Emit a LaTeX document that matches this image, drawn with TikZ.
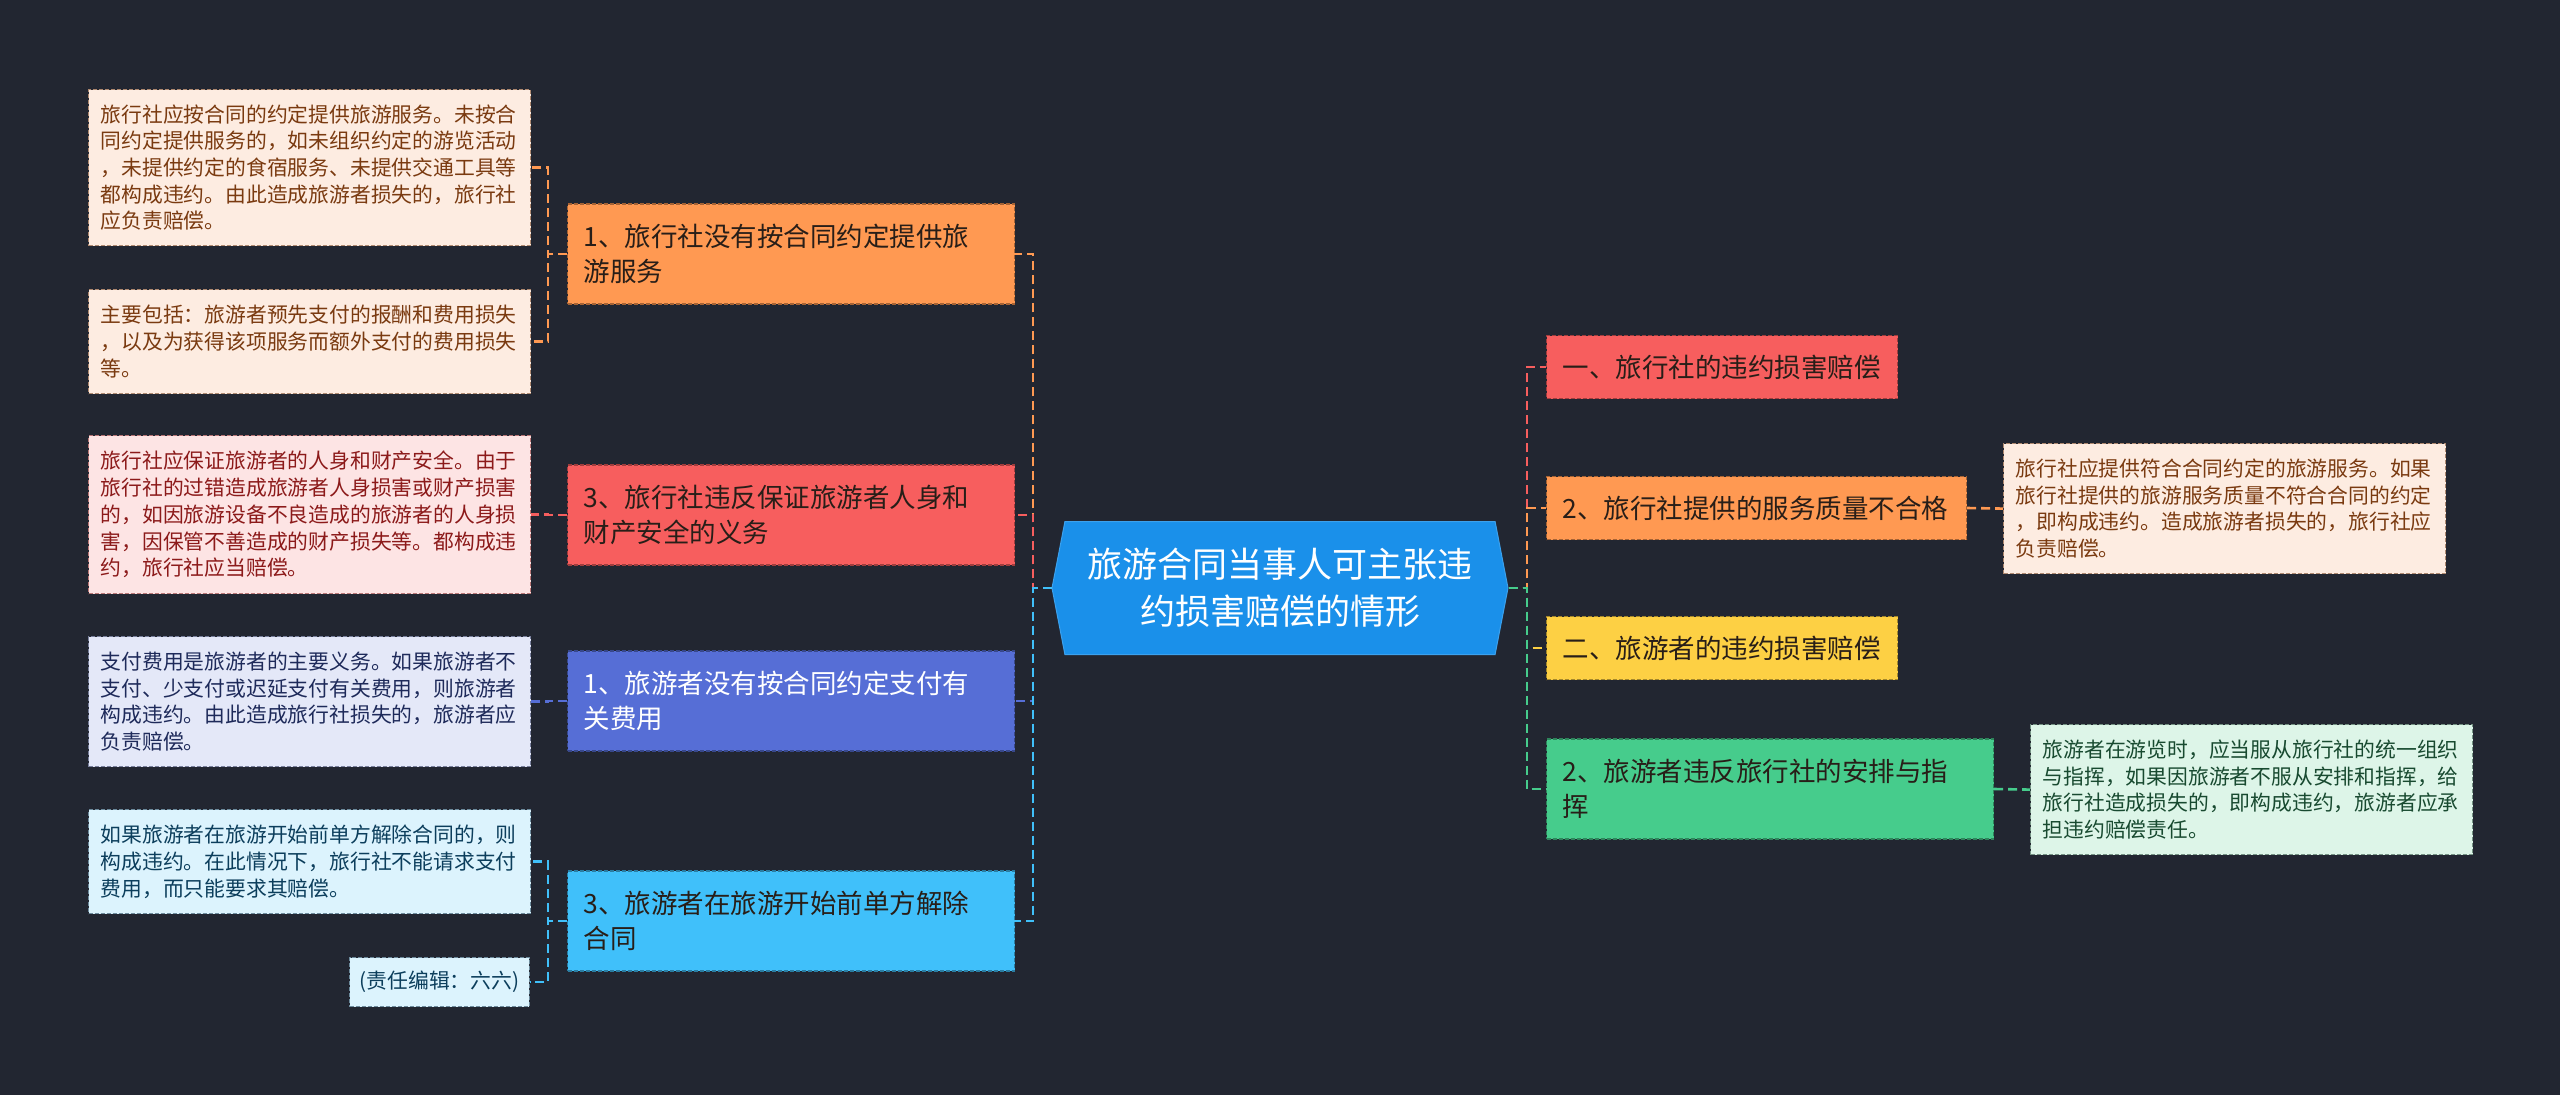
\documentclass[tikz,border=0pt]{standalone}
\usepackage{fontspec}
\setmainfont{Noto Sans CJK SC}
\usetikzlibrary{shapes.symbols,positioning}
\definecolor{bgdark}{RGB}{34,38,49}
\definecolor{hubblue}{RGB}{26,144,234}
\definecolor{tangerine}{RGB}{255,153,82}
\definecolor{coral}{RGB}{247,94,94}
\definecolor{indigo}{RGB}{86,110,214}
\definecolor{sky}{RGB}{64,192,250}
\definecolor{sun}{RGB}{253,208,68}
\definecolor{mint}{RGB}{70,204,140}
\definecolor{inkdark}{RGB}{40,30,24}
\definecolor{peachbg}{RGB}{253,236,225}
\definecolor{peachtx}{RGB}{122,58,16}
\definecolor{pinkbg}{RGB}{253,228,228}
\definecolor{pinktx}{RGB}{140,26,26}
\definecolor{lilacbg}{RGB}{228,232,248}
\definecolor{lilactx}{RGB}{30,42,90}
\definecolor{icebg}{RGB}{220,243,253}
\definecolor{icetx}{RGB}{12,62,92}
\definecolor{mintbg}{RGB}{221,245,232}
\definecolor{minttx}{RGB}{24,74,48}
\tikzset{
  hub/.style={signal,signal to=west and east,signal pointer angle=158,fill=hubblue,draw=hubblue!85!white,
    line width=1pt,text=white,align=center,minimum width=456pt,minimum height=133pt,font=\fontsize{35}{47}\selectfont},
  topic/.style={draw=#1!65!black,fill=#1,dash pattern=on 4pt off 2pt,line width=1.2pt,inner xsep=16pt,
    inner ysep=0pt,anchor=west,align=left,font=\fontsize{26.5}{35}\selectfont},
  leaf/.style={dash pattern=on 4pt off 2pt,line width=1.2pt,inner xsep=12pt,inner ysep=0pt,
    align=left,font=\fontsize{20.8}{26.7}\selectfont},
  link/.style={draw=#1,line width=2.6pt,dash pattern=on 9pt off 5pt},
}
\begin{document}
\begin{tikzpicture}[x=1pt,y=-1pt]
  \fill[bgdark] (0,0) rectangle (2560,1095);
  \useasboundingbox (0,0) rectangle (2560,1095);

  \node[hub] (hub) at (1280,588) {旅游合同当事人可主张违\\约损害赔偿的情形};

  \foreach \n/\x/\y/\w/\h/\c/\tc/\txt in {
    lt1/567/254/447/100/tangerine/inkdark/1、旅行社没有按合同约定提供旅\\游服务,
    lt2/567/515/447/100/coral/inkdark/3、旅行社违反保证旅游者人身和\\财产安全的义务,
    lt3/567/701/447/100/indigo/white/1、旅游者没有按合同约定支付有\\关费用,
    lt4/567/921/447/100/sky/inkdark/3、旅游者在旅游开始前单方解除\\合同,
    rt1/1546/367/351/63/coral/inkdark/一、旅行社的违约损害赔偿,
    rt2/1546/508/420/63/tangerine/inkdark/2、旅行社提供的服务质量不合格,
    rt3/1546/648/351/63/sun/inkdark/二、旅游者的违约损害赔偿,
    rt4/1546/789/447/100/mint/inkdark/2、旅游者违反旅行社的安排与指\\挥}{
    \node[topic=\c,text=\tc,minimum width=\w pt,minimum height=\h pt,text width=\w pt-32pt] (\n) at (\x,\y) {\txt};
  }

  \foreach \n/\x/\y/\h/\bg/\tc/\txt in {
    ll1/88/89/156/peachbg/peachtx/旅行社应按合同的约定提供旅游服务。未按合\\同约定提供服务的，如未组织约定的游览活动\\，未提供约定的食宿服务、未提供交通工具等\\都构成违约。由此造成旅游者损失的，旅行社\\应负责赔偿。,
    ll2/88/289/104/peachbg/peachtx/主要包括：旅游者预先支付的报酬和费用损失\\，以及为获得该项服务而额外支付的费用损失\\等。,
    ll3/88/435/158/pinkbg/pinktx/旅行社应保证旅游者的人身和财产安全。由于\\旅行社的过错造成旅游者人身损害或财产损害\\的，如因旅游设备不良造成的旅游者的人身损\\害，因保管不善造成的财产损失等。都构成违\\约，旅行社应当赔偿。,
    ll4/88/636/130/lilacbg/lilactx/支付费用是旅游者的主要义务。如果旅游者不\\支付、少支付或迟延支付有关费用，则旅游者\\构成违约。由此造成旅行社损失的，旅游者应\\负责赔偿。,
    ll5/88/809/104/icebg/icetx/如果旅游者在旅游开始前单方解除合同的，则\\构成违约。在此情况下，旅行社不能请求支付\\费用，而只能要求其赔偿。,
    rl1/2003/443/130/peachbg/peachtx/旅行社应提供符合合同约定的旅游服务。如果\\旅行社提供的旅游服务质量不符合合同的约定\\，即构成违约。造成旅游者损失的，旅行社应\\负责赔偿。,
    rl2/2030/724/130/mintbg/minttx/旅游者在游览时，应当服从旅行社的统一组织\\与指挥，如果因旅游者不服从安排和指挥，给\\旅行社造成损失的，即构成违约，旅游者应承\\担违约赔偿责任。}{
    \node[leaf,anchor=north west,fill=\bg,draw=\tc!60,text=\tc,minimum height=\h pt,text width=418pt] (\n) at (\x,\y) {\txt};
  }
  \node[leaf,anchor=north east,fill=icebg,draw=icetx!60,text=icetx,inner xsep=10pt,minimum height=49pt] (ll6) at (530,957) {(责任编辑：六六)};

  \coordinate (ls) at (1033,588);
  \coordinate (rs) at (1527,588);
  \foreach \n/\c in {lt1/tangerine,lt2/coral,lt3/indigo,lt4/sky}
    \draw[link=\c] (hub.west) -- (ls) |- (\n.east);
  \foreach \n/\c in {rt1/coral,rt2/tangerine,rt3/sun,rt4/mint}
    \draw[link=\c] (hub.east) -- (rs) |- (\n.west);
  \foreach \a/\b/\c in {lt1/ll1/tangerine,lt1/ll2/tangerine,lt2/ll3/coral,lt3/ll4/indigo,lt4/ll5/sky,lt4/ll6/sky}
    \draw[link=\c] (\a.west) -- ++(-19,0) |- (\b.east);
  \draw[link=tangerine] (rt2.east) -- (rl1.west);
  \draw[link=mint] (rt4.east) -- (rl2.west);
\end{tikzpicture}
\end{document}
